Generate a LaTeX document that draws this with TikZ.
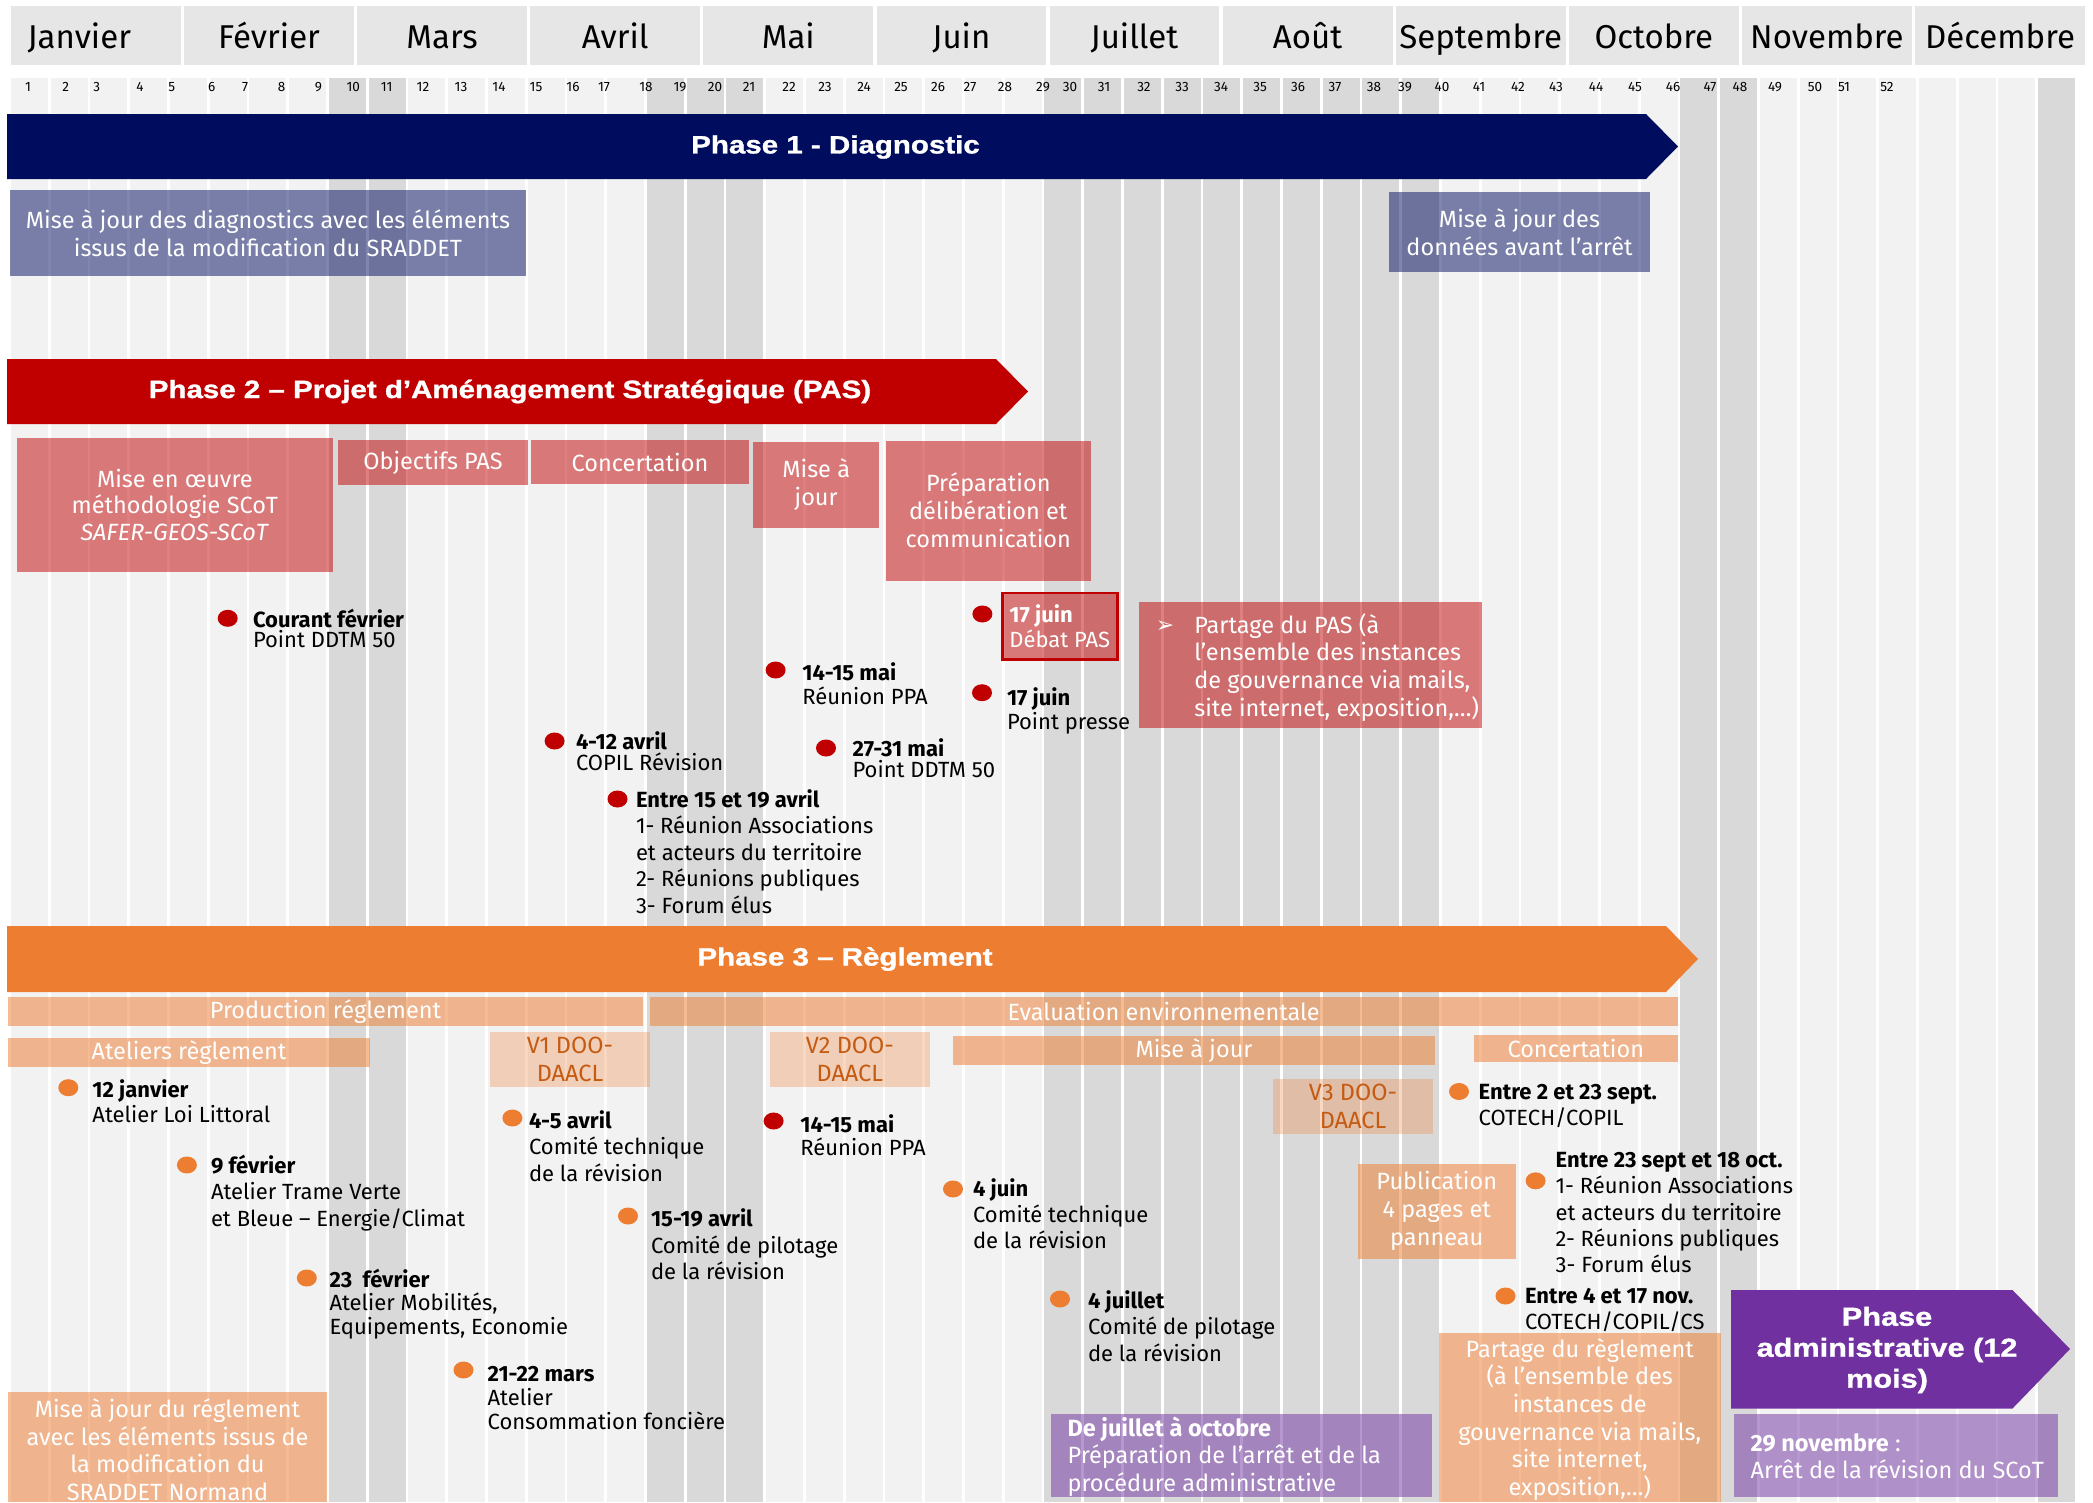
\documentclass[tikz,border=0pt]{standalone}
\usepackage{fontspec}
\setmainfont{Fira Sans}
\newfontfamily\dejavu{DejaVu Sans}
\newfontfamily\ttlfont[FakeStretch=1.18,FakeBold=1.2]{Liberation Sans}
\usetikzlibrary{shapes.geometric}
\definecolor{navy}{RGB}{0,12,94}
\definecolor{pred}{RGB}{192,0,0}
\definecolor{porange}{RGB}{237,125,49}
\definecolor{ppurple}{RGB}{112,48,160}
\definecolor{stripeL}{RGB}{242,242,242}
\definecolor{stripeD}{RGB}{217,217,217}
\definecolor{headg}{RGB}{231,230,230}
\definecolor{dorange}{RGB}{197,90,17}
\newcommand\RS{\rule{0pt}{19pt}}
\newcommand\RT{\rule{0pt}{20pt}}
\begin{document}
\begin{tikzpicture}[x=1pt,y=-1pt,
  every node/.style={inner sep=0pt, outer sep=0pt},
  headbox/.style={fill=headg, minimum width=169.8, minimum height=59},
  mon/.style={anchor=base, font=\fontsize{33}{33}\selectfont},
  wk/.style={font=\fontsize{13.5}{13.5}\selectfont},
  ttl/.style={text=white, align=center, font=\ttlfont\bfseries\fontsize{25}{31}\selectfont},
  boxtxt/.style={align=center, font=\fontsize{23.5}{#1}\selectfont},
  boxtxt/.default=28,
  bluebox/.style={fill=navy, fill opacity=0.5, text opacity=1, text=white},
  redbox/.style={fill=pred, fill opacity=0.5, text opacity=1, text=white},
  orbox/.style={fill=porange, fill opacity=0.52, text opacity=1, text=white},
  orlight/.style={fill=porange, fill opacity=0.3, text opacity=1, text=dorange},
  purbox/.style={fill=ppurple, fill opacity=0.5, text opacity=1, text=white},
  evt/.style={anchor=north west, align=left, font=\fontsize{22}{#1}\selectfont},
  evt/.default=26,
  wtxt/.style={anchor=north west, align=left, text=white, font=\fontsize{23.5}{#1}\selectfont},
  wtxt/.default=27.5,
  dotr/.style={ellipse, fill=pred, minimum width=20, minimum height=17},
  doto/.style={ellipse, fill=porange, minimum width=20, minimum height=17}
]
\useasboundingbox (0,0) rectangle (2093,1502);
\clip (0,0) rectangle (2093,1502);
\fill[white] (0,0) rectangle (2093,1502);

% week stripes
\foreach \k in {1,...,52}
  \fill[stripeL] ({9.5+(\k-1)*39.75+1.3},78) rectangle ({9.5+\k*39.75-1.3},1502);
\foreach \k in {9,10,17,18,19,27,28,29,30,31,32,33,34,35,36,43,44,52}
  \fill[stripeD] ({9.5+(\k-1)*39.75+1.3},78) rectangle ({9.5+\k*39.75-1.3},1502);

% month header
\foreach \i in {1,...,12}
  \node[headbox] (mb\i) at ({95.9+(\i-1)*173.1},35.5) {};
\foreach \m/\x [count=\i] in {Janvier/79.3, Février/269.0, Mars/442.1, Avril/615.2, Mai/788.3, Juin/961.4, Juillet/1134.5, Août/1307.6, Septembre/1480.7, Octobre/1653.8, Novembre/1826.9, Décembre/2000.0}
  \node[mon] (mt\i) at (\x,48) {\m};

% week numbers
\foreach \n/\x in {1/28, 2/65.7, 3/96.7, 4/140, 5/171.7, 6/211.7, 7/245, 8/281.7, 9/318.3, 10/353.3, 11/386.7, 12/423, 13/461, 14/499, 15/536, 16/573, 17/604, 18/646, 19/680, 20/715, 21/749, 22/789, 23/825, 24/864, 25/901, 26/938, 27/970, 28/1005, 29/1043, 30/1070, 31/1104, 32/1144, 33/1182, 34/1221, 35/1260, 36/1298, 37/1335, 38/1374, 39/1405, 40/1442, 41/1479, 42/1518, 43/1556, 44/1596, 45/1635, 46/1673, 47/1710, 48/1740, 49/1775, 50/1815, 51/1844, 52/1887}
  \node[wk] (w\n) at (\x,87) {\n};

% phase banners
\fill[navy] (7,114) -- (1646,114) -- (1678,146.5) -- (1646,179) -- (7,179) -- cycle;
\fill[pred] (7,359) -- (996,359) -- (1028,391.5) -- (996,424) -- (7,424) -- cycle;
\fill[porange] (7,926) -- (1666,926) -- (1698,959) -- (1666,992) -- (7,992) -- cycle;
\fill[ppurple] (1731,1290) -- (2012.5,1290) -- (2070,1349) -- (2012.5,1408.5) -- (1731,1408.5) -- cycle;
\node[ttl] (t1) at (835.5,147) {Phase 1 - Diagnostic};
\node[ttl] (t2) at (510,391.5) {Phase 2 – Projet d’Aménagement Stratégique (PAS)};
\node[ttl] (t3) at (845,959) {Phase 3 – Règlement};
\node[ttl, font=\ttlfont\bfseries\fontsize{26}{31}\selectfont] (t4) at (1887,1350) {Phase\\administrative (12\\mois)};

% phase 1 boxes
\node[bluebox, boxtxt, minimum width=515.8, minimum height=85.7] (b1) at (268,233)
  {Mise à jour des diagnostics avec les éléments\\issus de la modification du SRADDET};
\node[bluebox, boxtxt, minimum width=261, minimum height=80] (b2) at (1519.5,232)
  {Mise à jour des\\données avant l’arrêt};

% phase 2 boxes
\node[redbox, boxtxt=26.7, minimum width=316.3, minimum height=133.7] (r1) at (174.9,504.9)
  {Mise en œuvre\\méthodologie SCoT\\\textit{SAFER-GEOS-SCoT}};
\node[redbox, boxtxt, minimum width=190, minimum height=45] (r2) at (433,462.5) {Objectifs PAS};
\node[redbox, boxtxt, minimum width=218, minimum height=44] (r3) at (640,462) {Concertation};
\node[redbox, boxtxt, minimum width=126.4, minimum height=85.7] (r4) at (816.2,484.9) {Mise à\\jour};
\node[redbox, boxtxt, minimum width=204.5, minimum height=140.1] (r5) at (988.3,510.6)
  {Préparation\\délibération et\\communication};
\node[redbox, draw=pred, draw opacity=1, line width=2.5pt, align=left,
  font=\fontsize{22}{24.3}\selectfont, minimum width=115, minimum height=66.5] (r6) at (1059.8,626.2)
  {\textbf{17 juin}\\Débat PAS};
\node[redbox, minimum width=343, minimum height=125.7] (r7) at (1310,664.9) {};
\node[wtxt=27.6] (r7t) at (1194.3,613.3)
  {\RT\llap{\raisebox{1pt}{\dejavu\fontsize{22}{22}\selectfont ➢}\hspace{20pt}}Partage du PAS (à\\l’ensemble des instances\\de gouvernance via mails,\\site internet, exposition,…)};

% phase 2 events
\node[dotr] (d1) at (227.7,618.3) {};
\node[evt=20] (e1) at (253,608) {\RS\textbf{Courant février}\\Point DDTM 50};
\node[dotr] (d2) at (775.6,670) {};
\node[evt=23.3] (e2) at (802.4,661.7) {\RS\textbf{14-15 mai}\\Réunion PPA};
\node[dotr] (d3) at (554.6,741) {};
\node[evt=20.3] (e3) at (576,730.7) {\RS\textbf{4-12 avril}\\COPIL Révision};
\node[dotr] (d4) at (826,748) {};
\node[evt=21] (e4) at (852.6,737) {\RS\textbf{27-31 mai}\\Point DDTM 50};
\node[dotr] (d5) at (617.5,799) {};
\node[evt=26.5] (e5) at (636,788)
  {\RS\textbf{Entre 15 et 19 avril}\\1- Réunion Associations\\et acteurs du territoire\\2- Réunions publiques\\3- Forum élus};
\node[dotr] (d6) at (982.4,614) {};
\node[dotr] (d7) at (982,692.7) {};
\node[evt=24] (e6) at (1007,686) {\RS\textbf{17 juin}\\Point presse};

% phase 3 bars
\node[orbox, boxtxt, minimum width=635, minimum height=29] (o1) at (325.5,1011.5) {Production réglement};
\node[orbox, boxtxt, minimum width=1027.9, minimum height=29] (o2) at (1163.65,1011.5) {Evaluation environnementale};
\node[orbox, boxtxt, minimum width=362, minimum height=29.3] (o3) at (189,1052.35) {Ateliers règlement};
\node[orlight, boxtxt, minimum width=160, minimum height=55.5] (v1) at (570,1059.25) {V1 DOO-\\DAACL};
\node[orlight, boxtxt, minimum width=159.7, minimum height=55.5] (v2) at (849.85,1059.25) {V2 DOO-\\DAACL};
\node[orbox, boxtxt, minimum width=482, minimum height=29.4] (o4) at (1194,1050.7) {Mise à jour};
\node[orbox, boxtxt, minimum width=203.6, minimum height=27] (o5) at (1575.8,1048.5) {Concertation};
\node[orlight, boxtxt, minimum width=160, minimum height=55] (v3) at (1353,1106.5) {V3 DOO-\\DAACL};
\node[orbox, boxtxt, minimum width=157.5, minimum height=95] (o6) at (1436.75,1211) {Publication\\4 pages et\\panneau};
\node[orbox, minimum width=319, minimum height=110] (o7) at (167.5,1447) {};
\node[boxtxt=27.5, text=white, anchor=north] (o7t) at (167.5,1397.6)
  {\RT Mise à jour du réglement\\avec les éléments issus de\\la modification du\\SRADDET Normand};
\node[orbox, minimum width=281.5, minimum height=169.3] (o8) at (1579.75,1417.35) {};
\node[boxtxt=27.7, text=white, anchor=north] (o8t) at (1579.75,1337)
  {\RT Partage du règlement\\(à l’ensemble des\\instances de\\gouvernance via mails,\\site internet,\\exposition,…)};

% phase 3 events
\node[doto] (g1) at (68.3,1087.7) {};
\node[evt=25.6] (f1) at (92.4,1078) {\RS\textbf{12 janvier}\\Atelier Loi Littoral};
\node[doto] (g2) at (186.9,1165) {};
\node[evt=26.5] (f2) at (211,1154) {\RS\textbf{9 février}\\Atelier Trame Verte\\et Bleue – Energie/Climat};
\node[doto] (g3) at (306.8,1278) {};
\node[evt=23.5] (f3) at (329.5,1268) {\RS\textbf{23 \ février}\\Atelier Mobilités,\\Equipements, Economie};
\node[doto] (g4) at (463.5,1370) {};
\node[evt=24] (f4) at (487.6,1362) {\RS\textbf{21-22 mars}\\Atelier\\Consommation foncière};
\node[doto] (g5) at (512.4,1118) {};
\node[evt=26.5] (f5) at (529,1109) {\RS\textbf{4-5 avril}\\Comité technique\\de la révision};
\node[doto] (g6) at (628,1216) {};
\node[evt=26.7] (f6) at (651,1207.5) {\RS\textbf{15-19 avril}\\Comité de pilotage\\de la révision};
\node[dotr] (g7) at (773.6,1121) {};
\node[evt=23] (f7) at (800.4,1113) {\RS\textbf{14-15 mai}\\Réunion PPA};
\node[doto] (g8) at (953,1189) {};
\node[evt=25.8] (f8) at (973,1177.5) {\RS\textbf{4 juin}\\Comité technique\\de la révision};
\node[doto] (g9) at (1060,1299) {};
\node[evt=26.5] (f9) at (1088,1289) {\RS\textbf{4 juillet}\\Comité de pilotage\\de la révision};
\node[doto] (g10) at (1459,1091.5) {};
\node[evt=25.5] (f10) at (1478.7,1080.5) {\RS\textbf{Entre 2 et 23 sept.}\\COTECH/COPIL};
\node[doto] (g11) at (1535.6,1180.8) {};
\node[evt=26.3] (f11) at (1555.7,1148.6)
  {\RS\textbf{Entre 23 sept et 18 oct.}\\1- Réunion Associations\\et acteurs du territoire\\2- Réunions publiques\\3- Forum élus};
\node[doto] (g12) at (1505.5,1296) {};
\node[evt=26] (f12) at (1525,1284) {\RS\textbf{Entre 4 et 17 nov.}\\COTECH/COPIL/CS};

% administrative phase boxes
\node[purbox, minimum width=381, minimum height=83] (p1) at (1241,1455.5) {};
\node[wtxt=27.2] (p1t) at (1067.6,1416.7)
  {\RT\textbf{De juillet à octobre}\\Préparation de l’arrêt et de la\\procédure administrative};
\node[purbox, minimum width=324, minimum height=83] (p2) at (1896,1455.5) {};
\node[wtxt=27.3] (p2t) at (1750.7,1431)
  {\RT\textbf{29 novembre} :\\Arrêt de la révision du SCoT};
\end{tikzpicture}
\end{document}
